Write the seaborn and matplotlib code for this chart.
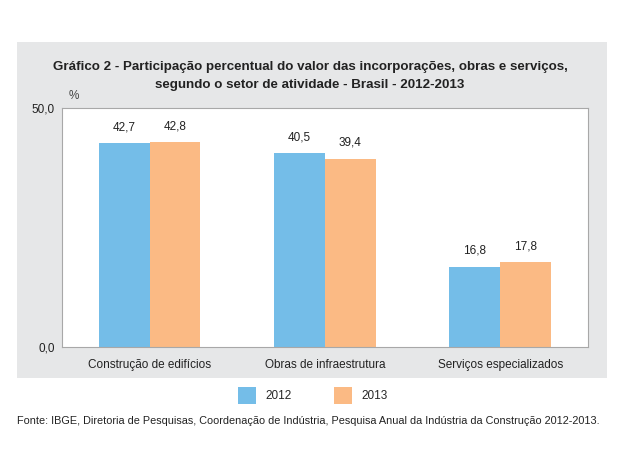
import matplotlib
matplotlib.use("Agg")
import matplotlib.pyplot as plt
from matplotlib.patches import Rectangle, Patch
import pandas as pd
import seaborn as sns

# dados do grafico
setores = ["Construção de edifícios", "Obras de infraestrutura", "Serviços especializados"]
anos = ["2012", "2013"]
v2012 = [42.7, 40.5, 16.8]
v2013 = [42.8, 39.4, 17.8]
cores = ["#74BDE8", "#FBBA84"]

df = pd.DataFrame({
    "setor": setores * 2,
    "ano": ["2012"] * 3 + ["2013"] * 3,
    "valor": v2012 + v2013,
})

sns.set_style("white")
plt.rcParams["font.family"] = ["Liberation Sans", "DejaVu Sans"]

fig = plt.figure(figsize=(6.2, 4.65), dpi=100)
fig.patches.append(Rectangle((0.027, 0.187), 0.952, 0.723, transform=fig.transFigure,
                             facecolor="#E6E7E8", edgecolor="none", zorder=-5))

ax = fig.add_axes([0.1, 0.254, 0.848, 0.514])
ax.set_zorder(2)
sns.barplot(data=df, x="setor", y="valor", hue="ano", palette=cores, width=0.58,
            saturation=1, linewidth=0, ax=ax, legend=False)
ax.set_ylim(0, 50)
ax.set_xlim(-0.5, 2.5)
ax.set_yticks([0, 50])
ax.set_yticklabels(["0,0", "50,0"], fontsize=8.5)
ax.tick_params(axis="y", length=0, pad=5, labelsize=8.5, colors="#222222")
ax.tick_params(axis="x", length=0, pad=9, labelsize=8.5, colors="#222222")
ax.set_xlabel("")
ax.set_ylabel("")
ax.set_facecolor("white")
for s in ax.spines.values():
    s.set_color("#A8A8A8")
    s.set_linewidth(0.8)

for cont in ax.containers:
    labs = [f"{b.get_height():.1f}".replace(".", ",") for b in cont]
    ax.bar_label(cont, labels=labs, padding=7, fontsize=8.5, color="#222222")

ax.text(0.012, 1.025, "%", transform=ax.transAxes, fontsize=8.5, color="#444444", va="bottom")

fig.text(0.5, 0.856, "Gráfico 2 - Participação percentual do valor das incorporações, obras e serviços,",
         ha="center", va="center", fontsize=9.6, fontweight="bold", color="#222222")
fig.text(0.5, 0.817, "segundo o setor de atividade - Brasil - 2012-2013",
         ha="center", va="center", fontsize=9.6, fontweight="bold", color="#222222")

handles = [Patch(facecolor=c, edgecolor="none") for c in cores]
fig.legend(handles, anos, loc="center", bbox_to_anchor=(0.505, 0.15), ncol=2, frameon=False,
           fontsize=8.5, handlelength=1.5, handleheight=1.9, columnspacing=3.6, handletextpad=0.8)

fig.text(0.027, 0.094, "Fonte: IBGE, Diretoria de Pesquisas, Coordenação de Indústria, Pesquisa Anual da Indústria da Construção 2012-2013.",
         ha="left", va="center", fontsize=7.8, color="#222222")

fig.savefig("out.png", dpi=100)
